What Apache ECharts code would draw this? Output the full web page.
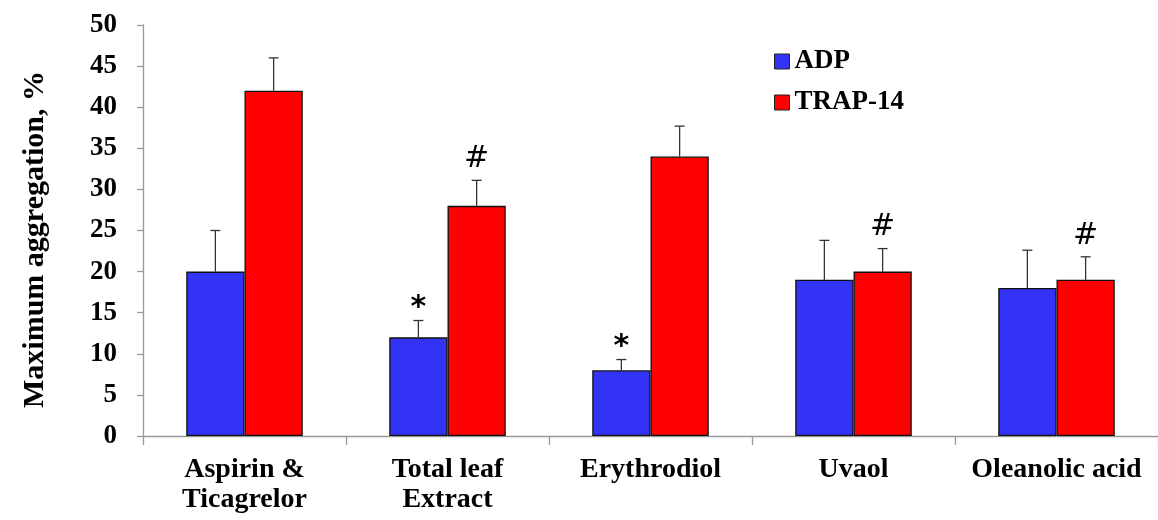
<!DOCTYPE html>
<html><head><meta charset="utf-8">
<script src="https://cdn.jsdelivr.net/npm/echarts@6/dist/echarts.min.js"></script>
<style>html,body{margin:0;padding:0;background:#fff}#c{width:1158px;height:520px}</style>
</head><body><div id="c"></div>
<script>
const categories = ['Aspirin &\nTicagrelor', 'Total leaf\nExtract', 'Erythrodiol', 'Uvaol', 'Oleanolic acid'];
const adp = [20, 12, 8, 19, 18];
const trap = [42, 28, 34, 20, 19];
const adpErrTop = [25, 14.05, 9.3, 23.8, 22.6];
const trapErrTop = [46, 31.1, 37.7, 22.8, 21.8];
const adpMarks = ['', '*', '*', '', ''];
const trapMarks = ['', '#', '', '#', '#'];
const yTicks = [0, 50, 5];

const FONT = '"Liberation Serif", "Times New Roman", serif';
const chart = echarts.init(document.getElementById('c'));

function errSeries(vals, tops, marks, idx) {
  const data = vals.map((v, i) => [i, v, tops[i], marks[i]]);
  return {
    type: 'custom',
    z: 10,
    data: data,
    encode: { x: 0, y: [1, 2] },
    renderItem: function (params, api) {
      const ci = api.value(0);
      const base = api.coord([ci, api.value(1)]);
      const top = api.coord([ci, api.value(2)]);
      const bw = api.size([1, 0])[0];
      const barW = bw * 0.287;
      const x = base[0] + (idx === 0 ? -barW / 2 : barW / 2);
      const children = [
        { type: 'line', shape: { x1: x, y1: base[1], x2: x, y2: top[1] }, style: { stroke: '#333', lineWidth: 1.3 } },
        { type: 'line', shape: { x1: x - 5, y1: top[1], x2: x + 5, y2: top[1] }, style: { stroke: '#333', lineWidth: 1.3 } }
      ];
      const m = api.value(3);
      if (m) {
        children.push({ type: 'text', x: x, y: top[1] + (m === '*' ? 3 : -6),
          style: { text: m, font: (m === '*' ? 'bold 30px ' : '30px ') + '"DejaVu Sans", Arial, sans-serif',
            fill: '#000', align: 'center', verticalAlign: 'bottom' } });
      }
      return { type: 'group', children: children };
    }
  };
}

chart.setOption({
  animation: false,
  backgroundColor: '#fff',
  grid: { left: 143, right: -12, top: 25, bottom: 84 },
  legend: {
    orient: 'vertical', left: 769, top: 43, itemWidth: 15, itemHeight: 15, itemGap: 14,
    icon: 'rect',
    itemStyle: { borderColor: '#222', borderWidth: 1 },
    textStyle: { fontFamily: FONT, fontWeight: 'bold', fontSize: 27, color: '#000', padding: [0, 0, 0, 0] },
    data: ['ADP', 'TRAP-14']
  },
  xAxis: {
    type: 'category', data: categories,
    axisLine: { lineStyle: { color: '#999', width: 1.3 } },
    axisTick: { show: true, length: 9, lineStyle: { color: '#999', width: 1.3 } },
    axisLabel: { fontFamily: FONT, fontWeight: 'bold', fontSize: 28, color: '#000', lineHeight: 30, margin: 19, interval: 0 }
  },
  yAxis: {
    type: 'value', min: yTicks[0], max: yTicks[1], interval: yTicks[2],
    name: 'Maximum aggregation, %', nameLocation: 'middle', nameGap: 93,
    nameTextStyle: { fontFamily: FONT, fontWeight: 'bold', fontSize: 30, color: '#000', padding: [0, 18, 0, 0] },
    axisLine: { show: true, lineStyle: { color: '#999', width: 1.3 } },
    axisTick: { show: true, length: 6, lineStyle: { color: '#999', width: 1.3 } },
    splitLine: { show: false },
    axisLabel: { fontFamily: FONT, fontWeight: 'bold', fontSize: 27, color: '#000', margin: 26 }
  },
  series: [
    { name: 'ADP', type: 'bar', data: adp, barGap: '0%', barCategoryGap: '42.6%',
      itemStyle: { color: '#3333f5', borderColor: '#111', borderWidth: 1.3 } },
    { name: 'TRAP-14', type: 'bar', data: trap,
      itemStyle: { color: '#ff0000', borderColor: '#111', borderWidth: 1.3 } },
    errSeries(adp, adpErrTop, adpMarks, 0),
    errSeries(trap, trapErrTop, trapMarks, 1)
  ]
});
</script></body></html>
